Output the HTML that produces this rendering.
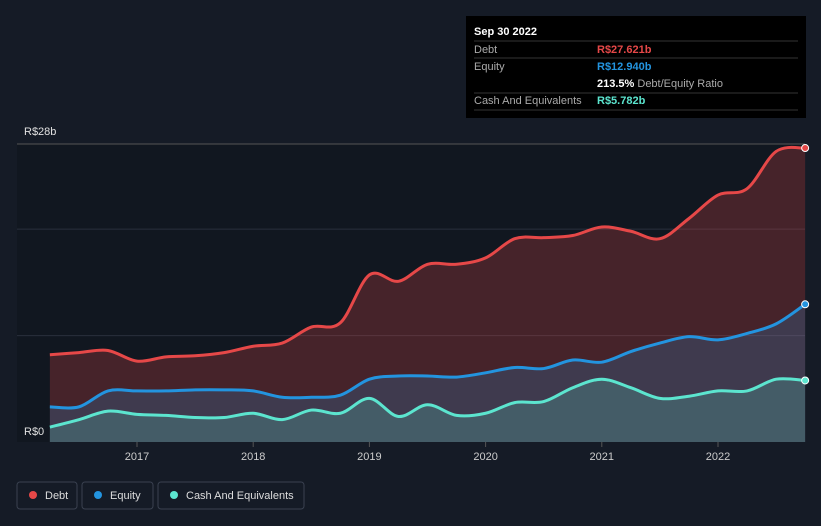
<!DOCTYPE html>
<html><head><meta charset="utf-8"><style>
body{margin:0;background:#151b26;font-family:"Liberation Sans",sans-serif;}
svg{display:block}
</style></head><body>
<svg id="chart" width="821" height="526">
<rect width="821" height="526" fill="#151b26"/>
<rect x="17" y="144" width="788" height="298" fill="#111720"/>
<g id="grid"></g>
<g id="areas"></g>
<g id="lines"></g>
<g id="xaxis"></g>
<text x="24" y="135" fill="#e0e0e0" font-size="11">R$28b</text>
<text x="24" y="435" fill="#e0e0e0" font-size="11">R$0</text>
<g>
<rect x="466" y="16" width="340" height="102" fill="#000"/>
<text x="474" y="35" fill="#fff" font-size="11" font-weight="bold">Sep 30 2022</text>
<line x1="474" y1="41" x2="798" y2="41" stroke="#333"/>
<text x="474" y="53" fill="#aaa" font-size="11">Debt</text>
<text x="597" y="53" fill="#e64848" font-size="11" font-weight="bold">R$27.621b</text>
<line x1="474" y1="58" x2="798" y2="58" stroke="#333"/>
<text x="474" y="70" fill="#aaa" font-size="11">Equity</text>
<text x="597" y="70" fill="#2394df" font-size="11" font-weight="bold">R$12.940b</text>
<text x="597" y="87" fill="#fff" font-size="11"><tspan font-weight="bold">213.5%</tspan><tspan fill="#aaa"> Debt/Equity Ratio</tspan></text>
<line x1="474" y1="93" x2="798" y2="93" stroke="#333"/>
<text x="474" y="104" fill="#aaa" font-size="11">Cash And Equivalents</text>
<text x="597" y="104" fill="#5ce5cf" font-size="11" font-weight="bold">R$5.782b</text>
<line x1="474" y1="110" x2="798" y2="110" stroke="#333"/>
</g>
<g>
<g><rect x="17" y="482" width="60" height="27" rx="3" fill="none" stroke="#3a4150"/><circle cx="33" cy="495" r="4" fill="#e64848"/><text x="45" y="499" fill="#ddd" font-size="11">Debt</text></g>
<g><rect x="82" y="482" width="71" height="27" rx="3" fill="none" stroke="#3a4150"/><circle cx="98" cy="495" r="4" fill="#2394df"/><text x="110" y="499" fill="#ddd" font-size="11">Equity</text></g>
<g><rect x="158" y="482" width="146" height="27" rx="3" fill="none" stroke="#3a4150"/><circle cx="174" cy="495" r="4" fill="#5ce5cf"/><text x="186" y="499" fill="#ddd" font-size="11">Cash And Equivalents</text></g>
</g>
</svg>
<script>
const startYear = 2016.25;
const quarterStep = 0.25;
const debt = [8.2,8.4,8.6,7.6,8.0,8.1,8.4,9.0,9.3,10.8,11.2,15.7,15.1,16.7,16.7,17.3,19.1,19.2,19.4,20.2,19.8,19.1,21.0,23.2,23.8,27.3,27.621];
const equity = [3.3,3.3,4.8,4.8,4.8,4.9,4.9,4.8,4.2,4.2,4.4,5.9,6.2,6.2,6.1,6.5,7.0,6.9,7.7,7.5,8.5,9.3,9.9,9.6,10.2,11.1,12.94];
const cash = [1.4,2.1,2.9,2.6,2.5,2.3,2.3,2.7,2.1,3.0,2.7,4.1,2.4,3.5,2.5,2.7,3.7,3.8,5.1,5.9,5.1,4.1,4.3,4.8,4.8,5.9,5.782];
const xTicks = [2017,2018,2019,2020,2021,2022];
const gridVals = [10,20,28];
const NS='http://www.w3.org/2000/svg';
const x = t => 137 + (t-2017)*116.2;
const y = v => 442 - v*298/28;
function mk(tag,attrs,parent){const e=document.createElementNS(NS,tag);for(const k in attrs)e.setAttribute(k,attrs[k]);parent.appendChild(e);return e;}
const grid=document.getElementById('grid');
gridVals.forEach(v=>{const l=mk('line',{x1:17,x2:805,y1:y(v),y2:y(v),stroke:v===28?'#555':'#2a303c'},grid);

});
const xa=document.getElementById('xaxis');
xTicks.forEach(t=>{const tx=mk('text',{x:x(t),y:460,fill:'#ccc','font-size':11,'text-anchor':'middle'},xa);tx.textContent=t;


const tk=mk('line',{x1:x(t),x2:x(t),y1:442,y2:447,stroke:'#555'},xa);

});
function pts(arr){return arr.map((v,i)=>[x(startYear+i*quarterStep),y(v)]);}
function path(p){let d='M'+p[0][0]+','+p[0][1];for(let i=0;i<p.length-1;i++){const p0=p[i-1]||p[i],p1=p[i],p2=p[i+1],p3=p[i+2]||p2;
const c1=[p1[0]+(p2[0]-p0[0])/6,p1[1]+(p2[1]-p0[1])/6],c2=[p2[0]-(p3[0]-p1[0])/6,p2[1]-(p3[1]-p1[1])/6];
d+=' C'+c1+' '+c2+' '+p2;}return d;}
const series=[['debt',debt,'#e64848','rgba(230,72,72,0.25)'],['equity',equity,'#2394df','rgba(35,148,223,0.2)'],['cash',cash,'#5ce5cf','rgba(92,229,207,0.2)']];
const ag=document.getElementById('areas'),lg=document.getElementById('lines');
series.forEach(([n,arr,c,f])=>{const p=pts(arr);const d=path(p);
const a=mk('path',{d:d+' L'+p[p.length-1][0]+',442 L'+p[0][0]+',442 Z',fill:f},ag);


const l=mk('path',{d:d,fill:'none',stroke:c,'stroke-width':3},lg);


const last=p[p.length-1];const dot=mk('circle',{cx:last[0],cy:last[1],r:3.5,fill:c,stroke:'#fff','stroke-width':1},lg);

});
</script>
</body></html>
